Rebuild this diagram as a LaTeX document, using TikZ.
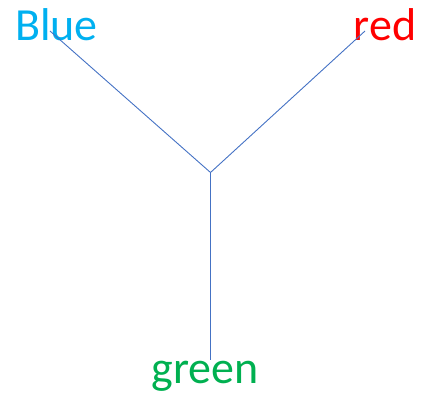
\documentclass[tikz,border=0pt]{standalone}
\usepackage{fontspec}
\setmainfont{Carlito}
\definecolor{cblue}{HTML}{00B0F0}
\definecolor{cred}{HTML}{FF0000}
\definecolor{cgreen}{HTML}{00B050}
\definecolor{cline}{HTML}{4472C4}
\begin{document}
\begin{tikzpicture}[x=1pt,y=-1pt,
  lbl/.style={inner sep=0pt, anchor=base, font=\fontsize{46}{50}\selectfont},
  conn/.style={draw=cline, line width=0.9pt}]
\useasboundingbox (0,0) rectangle (421,393);
\node[lbl, text=cblue] (blue) at (56.5,41) {Blue};
\node[lbl, text=cred] (red) at (385,40.5) {red};
\node[lbl, text=cgreen] (green) at (205,383) {green};
\coordinate (bend) at (50,31);
\coordinate (rend) at (365,31);
\coordinate (gend) at (210.5,360);
\coordinate (j) at (210.5,172.5);
\draw[conn] (bend) -- (j);
\draw[conn] (rend) -- (j);
\draw[conn] (j) -- (gend);
\end{tikzpicture}
\end{document}
